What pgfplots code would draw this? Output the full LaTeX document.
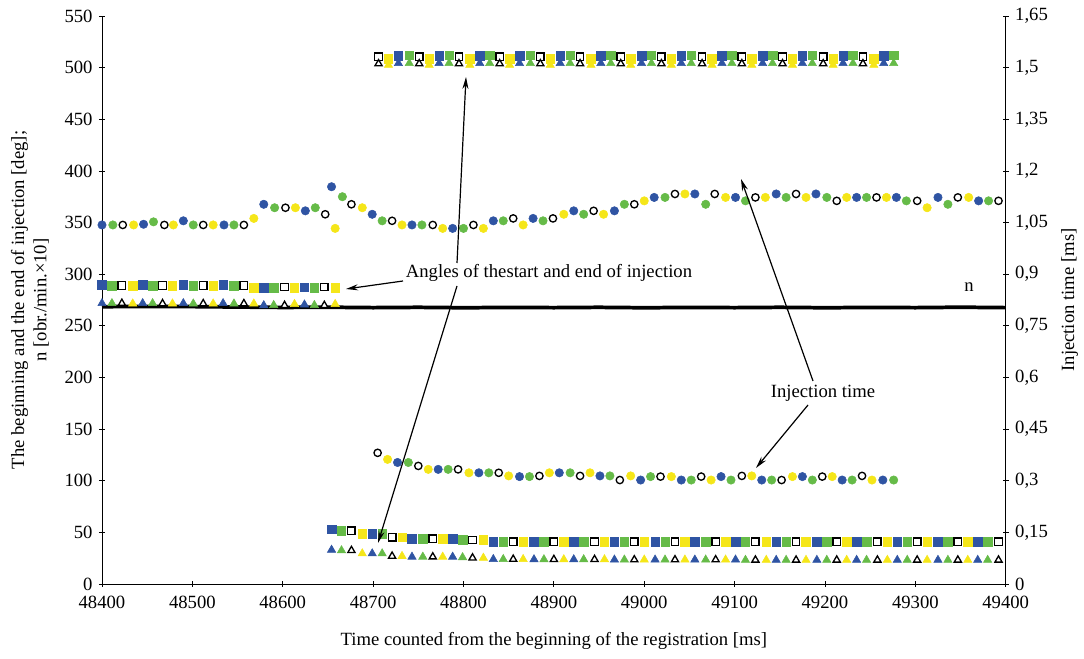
\documentclass[border=0pt]{standalone}
\usepackage{fontspec}
\setmainfont{Liberation Serif}
\usepackage{pgfplots}
\pgfplotsset{compat=1.18}
\usepackage{pgfplotstable}
\usetikzlibrary{arrows.meta}
\definecolor{cb}{RGB}{47,84,163}
\definecolor{cg}{RGB}{102,187,72}
\definecolor{cy}{RGB}{245,230,25}

% first segment: start (sq) and end (tri) angles
\pgfplotstableread{
x sq tri c
48400 289.5 271.8 b
48411 289.0 271.8 g
48422 289.0 271.8 w
48434 289.0 271.5 y
48445 289.5 271.8 b
48456 289.0 271.8 g
48467 289.0 271.5 w
48478 289.0 271.5 y
48490 289.5 271.8 b
48501 289.0 271.5 g
48512 289.0 271.5 w
48523 289.0 271.5 y
48534 289.5 271.8 b
48546 289.0 271.5 g
48557 289.0 271.5 w
48568 287.0 271.5 y
48579 287.0 269.8 b
48590 287.0 270.0 g
48602 287.5 269.8 w
48613 287.0 271.0 y
48624 287.5 270.5 b
48635 287.0 270.0 g
48646 287.5 269.8 w
48658 287.0 271.0 y
}\segA

% upper segment
\pgfplotstableread{
x sq tri c
48706 510.5 503.8 w
48717 508.5 502.5 y
48728 511.5 504.2 b
48740 512.0 504.2 g
48751 510.5 503.8 w
48762 508.5 502.5 y
48773 511.5 504.2 b
48784 512.0 504.2 g
48795 510.5 503.8 w
48807 508.5 502.5 y
48818 511.5 504.2 b
48829 512.0 504.2 g
48840 510.5 503.8 w
48851 508.5 502.5 y
48862 511.5 504.2 b
48874 512.0 504.2 g
48885 510.5 503.8 w
48896 508.5 502.5 y
48907 511.5 504.2 b
48918 512.0 504.2 g
48929 510.5 503.8 w
48941 508.5 502.5 y
48952 511.5 504.2 b
48963 512.0 504.2 g
48974 510.5 503.8 w
48985 508.5 502.5 y
48997 511.5 504.2 b
49008 512.0 504.2 g
49019 510.5 503.8 w
49030 508.5 502.5 y
49041 511.5 504.2 b
49052 512.0 504.2 g
49064 510.5 503.8 w
49075 508.5 502.5 y
49086 511.5 504.2 b
49097 512.0 504.2 g
49108 510.5 503.8 w
49119 508.5 502.5 y
49131 511.5 504.2 b
49142 512.0 504.2 g
49153 510.5 503.8 w
49164 508.5 502.5 y
49175 511.5 504.2 b
49186 512.0 504.2 g
49198 510.5 503.8 w
49209 508.5 502.5 y
49220 511.5 504.2 b
49231 512.0 504.2 g
49242 510.5 503.8 w
49254 508.5 502.5 y
49265 511.5 504.2 b
49276 512.0 504.2 g
}\segB

% lower segment
\pgfplotstableread{
x sq tri c
48654 53.0 33.0 b
48665 51.5 32.5 g
48676 51.5 32.5 w
48688 48.5 29.5 y
48699 48.5 29.5 b
48710 48.5 29.5 g
48721 45.2 27.0 w
48732 45.2 27.0 y
48743 43.9 26.3 b
48755 43.9 26.3 g
48766 43.9 26.3 w
48777 43.9 26.3 y
48788 43.9 26.3 b
48799 42.6 25.8 g
48810 42.6 25.3 w
48822 42.6 25.3 y
48833 41.0 24.0 b
48844 41.0 24.0 g
48855 41.0 24.0 w
48866 41.0 24.0 y
48878 41.0 23.8 b
48889 41.0 23.8 g
48900 41.0 23.8 w
48911 41.0 23.8 y
48922 41.0 23.8 b
48933 41.0 23.8 g
48945 41.0 23.8 w
48956 41.0 23.8 y
48967 41.0 23.5 b
48978 41.0 23.5 g
48989 41.0 23.5 w
49000 41.0 23.5 y
49012 41.0 23.5 b
49023 41.0 23.5 g
49034 41.0 23.5 w
49045 41.0 23.5 y
49056 41.0 23.5 b
49068 41.0 23.5 g
49079 41.0 23.5 w
49090 41.0 23.5 y
49101 41.0 23.5 b
49112 41.0 23.2 g
49123 41.0 23.2 w
49135 41.0 23.2 y
49146 41.0 23.2 b
49157 41.0 23.2 g
49168 41.0 23.2 w
49179 41.0 23.2 y
49191 41.0 23.2 b
49202 41.0 23.2 g
49213 41.0 23.2 w
49224 41.0 23.2 y
49235 41.0 23.2 b
49246 41.0 23.2 g
49258 41.0 23.2 w
49269 41.0 23.2 y
49280 41.0 23.2 b
49291 41.0 23.2 g
49302 41.0 23.2 w
49313 41.0 23.2 y
49325 41.0 23.2 b
49336 41.0 23.2 g
49347 41.0 23.2 w
49358 41.0 23.2 y
49369 41.0 23.2 b
49380 41.0 23.2 g
49392 41.0 23.2 w
}\segC

% injection time, upper row [ms]
\pgfplotstableread{
x t c
48400 1.043 b
48412 1.043 g
48423 1.043 w
48435 1.043 y
48446 1.045 b
48457 1.052 g
48469 1.043 w
48479 1.043 y
48490 1.055 b
48501 1.043 g
48512 1.043 w
48523 1.043 y
48535 1.043 b
48546 1.043 g
48557 1.043 w
48568 1.062 y
48579 1.103 b
48591 1.093 g
48603 1.093 w
48614 1.093 y
48625 1.084 b
48636 1.093 g
48647 1.074 w
48654 1.154 b
48658 1.033 y
48666 1.125 g
48676 1.103 w
48688 1.093 y
48699 1.074 b
48710 1.055 g
48721 1.055 w
48732 1.043 y
48743 1.043 b
48754 1.043 g
48766 1.043 w
48777 1.033 y
48788 1.033 b
48800 1.033 g
48811 1.043 w
48822 1.033 y
48833 1.055 b
48844 1.055 g
48855 1.062 w
48866 1.043 y
48877 1.062 b
48888 1.055 g
48899 1.062 w
48911 1.074 y
48922 1.084 b
48933 1.074 g
48944 1.084 w
48955 1.074 y
48967 1.084 b
48978 1.103 g
48989 1.103 w
49000 1.113 y
49011 1.123 b
49023 1.123 g
49034 1.133 w
49045 1.133 y
49056 1.133 b
49068 1.103 g
49078 1.133 w
49090 1.123 y
49101 1.123 b
49112 1.113 g
49123 1.123 w
49134 1.123 y
49146 1.133 b
49157 1.123 g
49168 1.133 w
49179 1.123 y
49190 1.133 b
49202 1.123 g
49213 1.113 w
49224 1.123 y
49235 1.123 b
49246 1.123 g
49257 1.123 w
49268 1.123 y
49279 1.123 b
49290 1.113 g
49302 1.113 w
49313 1.093 y
49325 1.123 b
49336 1.103 g
49347 1.123 w
49359 1.123 y
49370 1.113 b
49381 1.113 g
49392 1.113 w
}\injA

% injection time, lower row [ms]
\pgfplotstableread{
x t c
48705 0.381 w
48716 0.362 y
48727 0.353 b
48739 0.353 g
48750 0.343 w
48761 0.333 y
48772 0.333 b
48783 0.333 g
48794 0.333 w
48806 0.323 y
48817 0.323 b
48828 0.323 g
48839 0.323 w
48850 0.314 y
48862 0.312 b
48873 0.312 g
48884 0.314 w
48895 0.323 y
48906 0.323 b
48918 0.323 g
48929 0.314 w
48940 0.323 y
48951 0.314 b
48962 0.314 g
48973 0.302 w
48985 0.314 y
48996 0.302 b
49007 0.312 g
49018 0.312 w
49030 0.312 y
49041 0.302 b
49052 0.302 g
49063 0.312 w
49074 0.302 y
49085 0.312 b
49096 0.302 g
49108 0.314 w
49119 0.314 y
49130 0.302 b
49141 0.302 g
49152 0.302 w
49164 0.312 y
49175 0.312 b
49186 0.302 g
49197 0.312 w
49208 0.312 y
49219 0.302 b
49230 0.302 g
49241 0.314 w
49252 0.302 y
49264 0.302 b
49276 0.302 g
}\injB

\pgfplotsset{
  sqmarks/.style={scatter, only marks, scatter src=explicit symbolic,
    scatter/classes={
      b={mark=square*, mark size=3.2pt, draw=cb, fill=cb},
      g={mark=square*, mark size=3.2pt, draw=cg, fill=cg},
      w={mark=square*, mark size=2.8pt, draw=black, fill=white, line width=1pt},
      y={mark=square*, mark size=3.2pt, draw=cy, fill=cy}}},
  trimarks/.style={scatter, only marks, scatter src=explicit symbolic,
    scatter/classes={
      b={mark=triangle*, mark size=3.6pt, draw=cb, fill=cb},
      g={mark=triangle*, mark size=3.6pt, draw=cg, fill=cg},
      w={mark=triangle*, mark size=3.1pt, draw=black, fill=white, line width=1pt},
      y={mark=triangle*, mark size=3.6pt, draw=cy, fill=cy}}},
  cirmarks/.style={scatter, only marks, scatter src=explicit symbolic,
    scatter/classes={
      b={mark=*, mark size=3.15pt, draw=cb, fill=cb},
      g={mark=*, mark size=3.15pt, draw=cg, fill=cg},
      w={mark=*, mark size=2.75pt, draw=black, fill=white, line width=1pt},
      y={mark=*, mark size=3.15pt, draw=cy, fill=cy}}},
  common/.style={
    at={(0,0)}, anchor=south west, scale only axis,
    width=677.8pt, height=426pt,
    xmin=48400, xmax=49400,
    clip=false, scaled x ticks=false, scaled y ticks=false,
    tick align=outside, major tick length=4.5pt,
    every tick/.style={black, line width=0.6pt},
    /pgf/number format/assume math mode=true,
  },
  noarrows/.style={
    axis line style={line width=0.6pt, -},
    every inner x axis line/.append style={-},
    every inner y axis line/.append style={-},
    every outer x axis line/.append style={-},
    every outer y axis line/.append style={-},
  }
}

\begin{document}
\fontsize{14}{16.8}\selectfont
\begin{tikzpicture}
\path[use as bounding box] (-76.5pt,-56.25pt) rectangle (736.5pt,438pt);

\begin{axis}[common,
  ymin=0, ymax=550,
  axis x line=bottom, axis y line=left, noarrows,
  xtick={48400,48500,48600,48700,48800,48900,49000,49100,49200,49300,49400},
  xticklabels={48400,48500,48600,48700,48800,48900,49000,49100,49200,49300,49400},
  xticklabel style={yshift=-2pt},
  ytick={0,50,100,150,200,250,300,350,400,450,500,550},
  xlabel={Time counted from the beginning of the registration [ms]},
  xlabel style={at={(axis description cs:0.5,-0.1004)}, anchor=center},
  ylabel={The beginning and the end of injection [deg];\\n [obr./min.×10]},
  ylabel style={at={(axis description cs:-0.0797,0.5)}, anchor=center, align=center},
]
\addplot[black, line width=2.8pt] coordinates {
 (48400,268.5) (48450,268.8) (48500,268.6) (48550,268.2) (48600,267.8) (48650,268.0)
 (48700,267.6) (48750,267.9) (48800,267.5) (48850,267.8) (48900,267.6) (48950,267.9)
 (49000,267.5) (49050,267.8) (49100,267.6) (49150,267.9) (49200,267.5) (49250,267.8)
 (49300,267.6) (49350,268.0) (49400,267.6)};
\addplot[sqmarks] table[x=x, y=sq, meta=c] {\segA};
\addplot[trimarks] table[x=x, y=tri, meta=c] {\segA};
\addplot[sqmarks] table[x=x, y=sq, meta=c] {\segB};
\addplot[trimarks] table[x=x, y=tri, meta=c] {\segB};
\addplot[sqmarks] table[x=x, y=sq, meta=c] {\segC};
\addplot[trimarks] table[x=x, y=tri, meta=c] {\segC};
\end{axis}

\begin{axis}[common,
  ymin=0, ymax=1.65,
  axis x line=none, axis y line=right, noarrows,
  ytick={0,0.15,0.3,0.45,0.6,0.75,0.9,1.05,1.2,1.35,1.5,1.65},
  yticklabels={0,{0,15},{0,3},{0,45},{0,6},{0,75},{0,9},{1,05},{1,2},{1,35},{1,5},{1,65}},
  ylabel={Injection time [ms]},
  ylabel style={at={(axis description cs:1.0708,0.5)}, anchor=center, rotate=0},
]
\addplot[cirmarks] table[x=x, y=t, meta=c] {\injA};
\addplot[cirmarks] table[x=x, y=t, meta=c] {\injB};
\end{axis}

\begin{scope}[x=0.75pt, y=-0.75pt, shift={(-76.5pt,438pt)}]
  \node at (549,273) {Angles of thestart and end of injection};
  \node at (823,393) {Injection time};
  \node at (969,287) {n};
  \begin{scope}[line width=0.9pt, -{Stealth[length=9pt,width=4.5pt]}]
    \draw (403,281) -- (346,289);
    \draw (457,263) -- (466,77);
    \draw (457,286) -- (378,543);
    \draw (813,381) -- (741,179);
    \draw (808,405) -- (756,468);
  \end{scope}
\end{scope}
\end{tikzpicture}
\end{document}
